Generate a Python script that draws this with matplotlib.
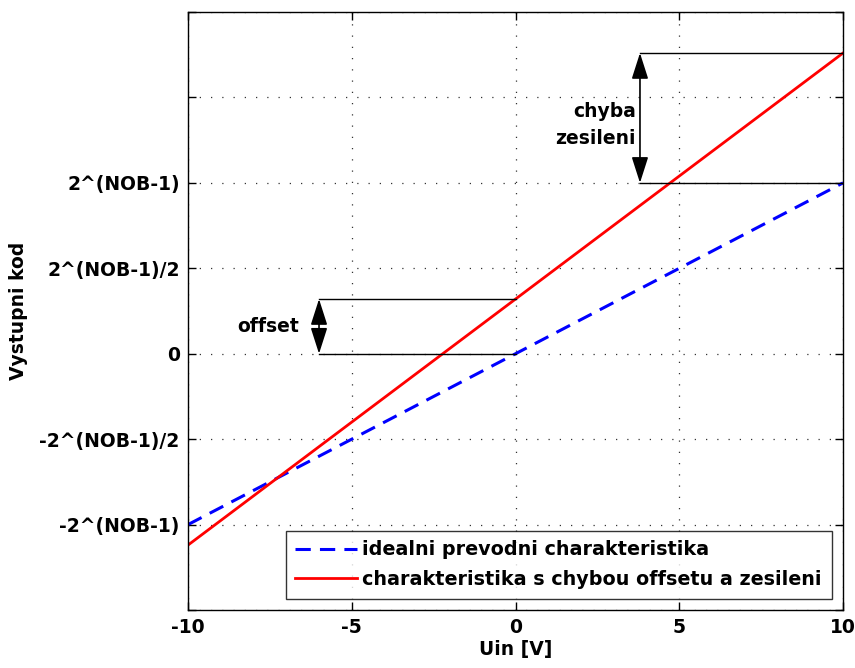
import numpy as np
import matplotlib.pyplot as plt

# Data (normalised: 2^(NOB-1) == 1)
uin_limits   = [-10, 10]
ideal_codes  = [-1.0, 1.0]
real_codes   = [-1.12, 1.76]
offset_value = 0.32
x_ticks      = [-10, -5, 0, 5, 10]
y_ticks      = [-1.5, -1.0, -0.5, 0.0, 0.5, 1.0, 1.5, 2.0]
y_tick_labels = ["", "-2^(NOB-1)", "-2^(NOB-1)/2", "0", "2^(NOB-1)/2", "2^(NOB-1)", "", ""]

plt.rcParams['font.family'] = ['DejaVu Sans']
plt.rcParams['font.weight'] = 'bold'
plt.rcParams['axes.unicode_minus'] = False
FS = 13.5

fig = plt.figure(figsize=(8.55, 6.68), dpi=100)
ax = fig.add_axes([0.2199, 0.0868, 0.986 - 0.2199, 0.982 - 0.0868])

ax.plot(uin_limits, ideal_codes, '--', color='#0000ff', linewidth=2.2, dashes=(5, 3),
        label='idealni prevodni charakteristika')
ax.plot(uin_limits, real_codes, '-', color='#ff0000', linewidth=2.0,
        label='charakteristika s chybou offsetu a zesileni')

ARROW = dict(arrowstyle='<|-|>,head_length=1.0,head_width=0.32', color='k', lw=1.2,
             mutation_scale=16, shrinkA=0, shrinkB=0)

# Offset annotation
off_x = -6
ax.plot([off_x, 0], [0, 0], color='k', linewidth=1)
ax.plot([off_x, 0], [offset_value, offset_value], color='k', linewidth=1)
ax.annotate('', xy=(off_x, 0), xytext=(off_x, offset_value), arrowprops=ARROW)
ax.text(off_x - 0.6, offset_value / 2, 'offset', ha='right', va='center',
        fontsize=FS, fontweight='bold')

# Gain error annotation
gain_x = 3.8
ax.plot([gain_x, uin_limits[1]], [ideal_codes[1], ideal_codes[1]], color='k', linewidth=1)
ax.plot([gain_x, uin_limits[1]], [real_codes[1], real_codes[1]], color='k', linewidth=1)
ax.annotate('', xy=(gain_x, ideal_codes[1]), xytext=(gain_x, real_codes[1]), arrowprops=ARROW)
ax.text(gain_x - 0.12, (ideal_codes[1] + real_codes[1]) / 2 - 0.04, 'chyba\nzesileni',
        ha='right', va='center', fontsize=FS, fontweight='bold', linespacing=1.5)

ax.set_xlim(uin_limits)
ax.set_ylim(-1.5, 2.0)
ax.set_xticks(x_ticks)
ax.set_yticks(y_ticks)
ax.set_yticklabels(y_tick_labels)
ax.tick_params(direction='in', length=6, width=1, top=True, right=True,
               labelsize=FS, pad=6)
for lbl in ax.get_xticklabels() + ax.get_yticklabels():
    lbl.set_fontweight('bold')
ax.grid(True, linestyle=(0, (1, 8)), color='#333333', linewidth=0.9)
for sp in ax.spines.values():
    sp.set_linewidth(1)

ax.set_xlabel('Uin [V]', fontsize=FS, fontweight='bold', labelpad=2)
ax.set_ylabel('Vystupni kod', fontsize=FS, fontweight='bold', labelpad=8)

leg = ax.legend(loc='lower right', fontsize=13.8, frameon=True, fancybox=False,
                edgecolor='k', handlelength=3.2, handletextpad=0.3,
                labelspacing=0.55, borderpad=0.5, borderaxespad=0.6)
leg.get_frame().set_linewidth(1)
for t in leg.get_texts():
    t.set_fontweight('bold')

fig.savefig('out.png', dpi=100)
